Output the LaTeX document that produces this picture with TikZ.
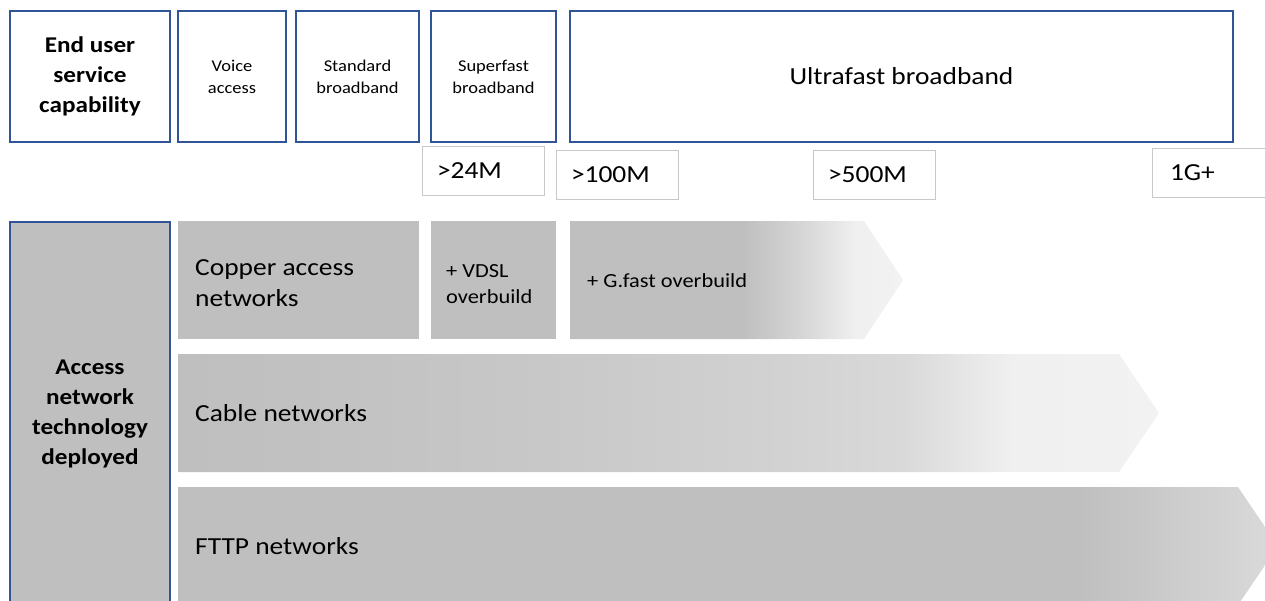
\documentclass[tikz,border=0pt]{standalone}
\usepackage{fontspec}
\setmainfont{Carlito}[FakeStretch=1.12]
\definecolor{capblue}{HTML}{2F5597}
\definecolor{netgray}{HTML}{BFBFBF}
\definecolor{boxgray}{HTML}{C8C8C8}
% fades for the arrow bars, left to right
\pgfdeclarehorizontalshading{gfastfade}{100bp}{rgb(0bp)=(0.749,0.749,0.749); rgb(25bp)=(0.749,0.749,0.749);
  rgb(51bp)=(0.749,0.749,0.749); rgb(60bp)=(0.84,0.84,0.84); rgb(68bp)=(0.94,0.94,0.94);
  rgb(75bp)=(0.949,0.949,0.949); rgb(100bp)=(0.949,0.949,0.949)}
\pgfdeclarehorizontalshading{cablefade}{100bp}{rgb(0bp)=(0.749,0.749,0.749); rgb(25bp)=(0.749,0.749,0.749);
  rgb(33bp)=(0.76,0.76,0.76); rgb(44bp)=(0.785,0.785,0.785); rgb(55bp)=(0.82,0.82,0.82);
  rgb(62bp)=(0.851,0.851,0.851); rgb(67.5bp)=(0.94,0.94,0.94); rgb(75bp)=(0.949,0.949,0.949);
  rgb(100bp)=(0.949,0.949,0.949)}
\pgfdeclarehorizontalshading{fttpfade}{100bp}{rgb(0bp)=(0.749,0.749,0.749); rgb(25bp)=(0.749,0.749,0.749);
  rgb(66bp)=(0.749,0.749,0.749); rgb(74.5bp)=(0.85,0.85,0.85); rgb(100bp)=(0.855,0.855,0.855)}
\begin{document}
\begin{tikzpicture}[x=1pt,y=-1pt,
  capbox/.style={draw=capblue,line width=2pt,fill=white,align=center,inner sep=0pt},
  speedbox/.style={draw=boxgray,line width=0.8pt,fill=white,inner xsep=15pt,inner ysep=0pt,
    text width=92pt,align=left,minimum height=49pt,font=\fontsize{24.5}{28}\selectfont},
  netbox/.style={fill=netgray,inner sep=0pt},
  headfont/.style={font=\fontsize{22.5}{30}\selectfont\bfseries},
  smallfont/.style={font=\fontsize{16.5}{22}\selectfont},
  midfont/.style={font=\fontsize{20}{26}\selectfont},
  bigfont/.style={font=\fontsize{24.5}{31}\selectfont},
  netlabel/.style={anchor=west,align=left,inner sep=0pt}]
\useasboundingbox (0,0) rectangle (1265,600);
\clip (0,0) rectangle (1265,600);
% top row: service capability
\node[capbox,headfont,minimum width=160pt,minimum height=131pt] (enduser) at (90,76.5) {End user\\service\\capability};
\node[capbox,smallfont,minimum width=108pt,minimum height=131pt] (voice) at (232,76.5) {Voice\\access};
\node[capbox,smallfont,minimum width=123pt,minimum height=131pt] (standard) at (357.5,76.5) {Standard\\broadband};
\node[capbox,smallfont,minimum width=125pt,minimum height=131pt] (superfast) at (493.5,76.5) {Superfast\\broadband};
\node[capbox,bigfont,minimum width=663pt,minimum height=131pt] (ultrafast) at (901.5,76.5) {Ultrafast broadband};
% speed marks
\node[speedbox] (s24) at (483,170.5) {>24M};
\node[speedbox] (s100) at (617,174.5) {>100M};
\node[speedbox] (s500) at (874,174.5) {>500M};
\node[speedbox,inner xsep=18pt] (s1g) at (1216,173) {1G+};
% bottom: access technologies
\node[capbox,headfont,fill=netgray,minimum width=160pt,minimum height=384pt,anchor=north] (access) at (90,221)
  {Access\\network\\technology\\deployed};
\node[netbox,minimum width=241pt,minimum height=118pt] (copper) at (298.5,280) {};
\node[netbox,minimum width=125pt,minimum height=118pt] (vdsl) at (493.5,280) {};
\shade[shading=gfastfade] (570,221) -- (864,221) -- (903,280) -- (864,339) -- (570,339) -- cycle;
\shade[shading=cablefade] (178,354) -- (1119,354) -- (1159,413) -- (1119,472) -- (178,472) -- cycle;
\shade[shading=fttpfade] (178,487) -- (1238,487) -- (1278,546) -- (1238,605) -- (178,605) -- cycle;
\node[netlabel,bigfont] (coppertxt) at (195,283) {Copper access\\networks};
\node[netlabel,midfont] (vdsltxt) at (446,284) {+ VDSL\\overbuild};
\node[netlabel,midfont] (gfasttxt) at (587,281) {+ G.fast overbuild};
\node[netlabel,bigfont] (cabletxt) at (195,413) {Cable networks};
\node[netlabel,bigfont] (fttptxt) at (195,546) {FTTP networks};
\end{tikzpicture}
\end{document}
